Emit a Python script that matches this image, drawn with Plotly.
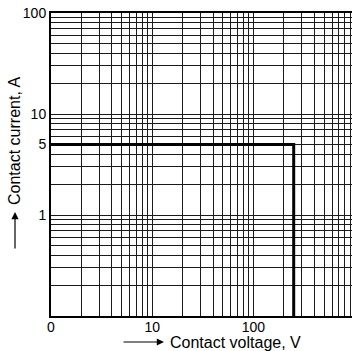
import plotly.graph_objects as go

# Data
line_x = [1, 250, 250]
line_y = [5, 5, 0.1]

x_tick_vals = [1, 10, 100]
x_tick_text = ["0", "10", "100"]
y_tick_vals = [1, 5, 10, 100]
y_tick_text = ["1", "5", "10", "100"]

x_grid = [m * 10 ** e for e in range(0, 3) for m in range(1, 10)]
y_grid = [m * 10 ** e for e in range(-1, 2) for m in range(1, 10)] + [100]

W, H = 352, 351
ml, mr, mt, mb = 51, 0, 13, 35
pw, ph = W - ml - mr, H - mt - mb

def px(xp):
    return (xp - ml) / pw

def py(yp):
    return (H - mb - yp) / ph

fig = go.Figure()
fig.add_trace(go.Scatter(x=line_x, y=line_y, mode="lines",
                         line=dict(color="black", width=3), showlegend=False,
                         hoverinfo="skip"))

xt = {v: "" for v in x_grid}
for v, t in zip(x_tick_vals, x_tick_text):
    xt[v] = t
yt = {v: "" for v in y_grid}
for v, t in zip(y_tick_vals, y_tick_text):
    yt[v] = t

grid_col = "#1a1a1a"
font = dict(family="Liberation Sans, Arial, sans-serif", color="black")

fig.update_xaxes(type="log", range=[0, 2.974],
                 tickmode="array", tickvals=list(xt.keys()), ticktext=list(xt.values()),
                 showgrid=True, gridcolor=grid_col, gridwidth=1,
                 showline=True, linecolor="black", linewidth=2, mirror=True,
                 ticks="", zeroline=False, ticklabelstandoff=-3,
                 tickfont=dict(size=14, **font))
fig.update_yaxes(type="log", range=[-1, 2],
                 tickmode="array", tickvals=list(yt.keys()), ticktext=list(yt.values()),
                 showgrid=True, gridcolor=grid_col, gridwidth=1,
                 showline=True, linecolor="black", linewidth=2, mirror=False,
                 ticks="", zeroline=False, tickfont=dict(size=14, **font))

annotations = [
    dict(text="Contact voltage, V", xref="paper", yref="paper",
         x=px(169), y=py(342), xanchor="left", yanchor="middle", borderpad=0,
         showarrow=False, font=dict(size=16, **font)),
    dict(text="Contact current, A", xref="paper", yref="paper",
         x=px(14), y=py(141), xanchor="center", yanchor="middle", textangle=-90,
         borderpad=0, showarrow=False, font=dict(size=16, **font)),
    dict(text="", xref="paper", yref="paper", x=px(164), y=py(342),
         ax=-42, ay=0, showarrow=True, arrowhead=2, arrowsize=1.2,
         arrowwidth=1.2, arrowcolor="black", standoff=0),
    dict(text="", xref="paper", yref="paper", x=px(15), y=py(212),
         ax=0, ay=38, showarrow=True, arrowhead=2, arrowsize=1.2,
         arrowwidth=1.2, arrowcolor="black", standoff=0),
]

fig.update_layout(width=W, height=H, margin=dict(l=ml, r=mr, t=mt, b=mb),
                  paper_bgcolor="white", plot_bgcolor="white",
                  annotations=annotations, font=font, showlegend=False)

fig.write_html("out.html")
